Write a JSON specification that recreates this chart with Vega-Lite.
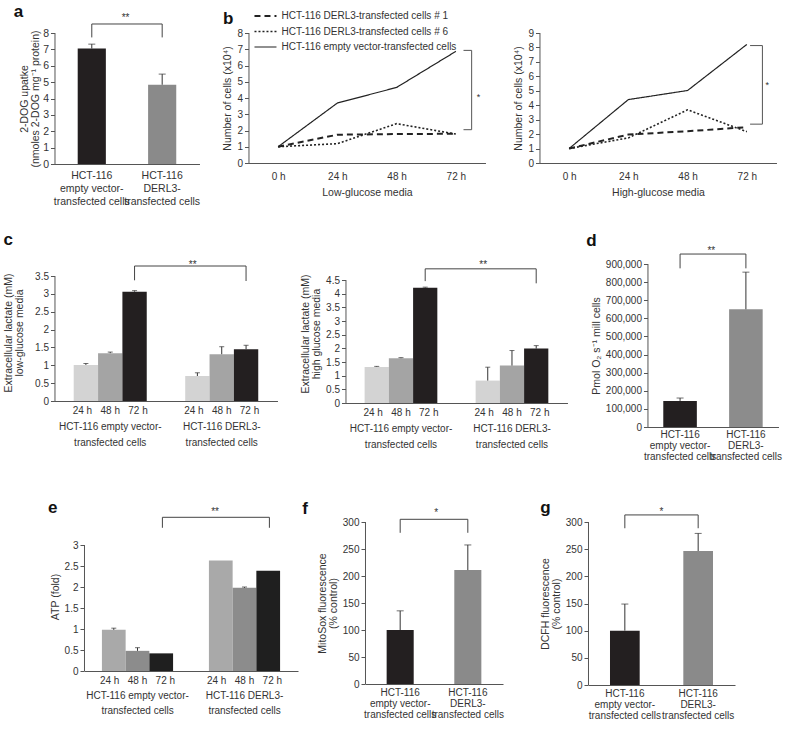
{
"$schema": "https://vega.github.io/schema/vega-lite/v6.json",
"background": "white",
"padding": {"left": 3, "top": 2, "right": 15, "bottom": 0},
"config": {
  "font": "Liberation Sans",
  "view": {"stroke": null},
  "axis": {"domainColor": "#555", "tickColor": "#555", "labelColor": "#333", "titleColor": "#333", "labelFontSize": 10, "titleFontSize": 10.5, "titleFontWeight": "normal", "tickSize": 4, "grid": false, "labelPadding": 2, "titlePadding": 4, "labelFont": "Liberation Sans", "titleFont": "Liberation Sans", "labelOverlap": false},
  "axisY": {"titleLineHeight": 11},
  "title": {"fontSize": 17, "fontWeight": "bold", "anchor": "start", "color": "#111", "font": "Liberation Sans"},
  "text": {"font": "Liberation Sans"}
},
"datasets": {
  "a": [{"g": "ev", "v": 7.05, "hi": 7.32}, {"g": "dr", "v": 4.84, "hi": 5.49}],
  "a_br": [{"g": "ev", "v": 7.73, "o": 1}, {"g": "ev", "v": 8.55, "o": 2}, {"g": "dr", "v": 8.55, "o": 3}, {"g": "dr", "v": 7.73, "o": 4}],
  "a_st": [{"g": "ev", "v": 8.93, "s": "**"}],
  "bl": [
    {"s": "d1", "t": 0, "v": 1.0}, {"s": "d1", "t": 24, "v": 1.74}, {"s": "d1", "t": 48, "v": 1.78}, {"s": "d1", "t": 72, "v": 1.8},
    {"s": "d6", "t": 0, "v": 1.0}, {"s": "d6", "t": 24, "v": 1.19}, {"s": "d6", "t": 48, "v": 2.42}, {"s": "d6", "t": 72, "v": 1.78},
    {"s": "ev", "t": 0, "v": 1.0}, {"s": "ev", "t": 24, "v": 3.69}, {"s": "ev", "t": 48, "v": 4.65}, {"s": "ev", "t": 72, "v": 6.87}
  ],
  "bl_br": [{"t": 75.1, "v": 6.93, "o": 1}, {"t": 78.4, "v": 6.93, "o": 2}, {"t": 78.4, "v": 2.05, "o": 3}, {"t": 75.1, "v": 2.05, "o": 4}],
  "bl_st": [{"t": 81.2, "v": 4.04, "s": "*"}],
  "br": [
    {"s": "d1", "t": 0, "v": 1.0}, {"s": "d1", "t": 24, "v": 1.97}, {"s": "d1", "t": 48, "v": 2.2}, {"s": "d1", "t": 72, "v": 2.48},
    {"s": "d6", "t": 0, "v": 1.0}, {"s": "d6", "t": 24, "v": 1.74}, {"s": "d6", "t": 48, "v": 3.68}, {"s": "d6", "t": 72, "v": 2.17},
    {"s": "ev", "t": 0, "v": 1.0}, {"s": "ev", "t": 24, "v": 4.39}, {"s": "ev", "t": 48, "v": 5.02}, {"s": "ev", "t": 72, "v": 8.21}
  ],
  "br_br": [{"t": 73.3, "v": 8.13, "o": 1}, {"t": 78.3, "v": 8.13, "o": 2}, {"t": 78.3, "v": 2.69, "o": 3}, {"t": 73.3, "v": 2.69, "o": 4}],
  "br_st": [{"t": 80.3, "v": 5.4, "s": "*"}],
  "cl": [
    {"g": "ev", "t": "24 h", "v": 1.01, "hi": 1.05}, {"g": "ev", "t": "48 h", "v": 1.34, "hi": 1.37}, {"g": "ev", "t": "72 h", "v": 3.06, "hi": 3.09},
    {"g": "dr", "t": "24 h", "v": 0.70, "hi": 0.79}, {"g": "dr", "t": "48 h", "v": 1.31, "hi": 1.52}, {"g": "dr", "t": "72 h", "v": 1.45, "hi": 1.56}
  ],
  "cl_br": [{"g": "ev", "v": 3.38, "o": 1}, {"g": "ev", "v": 3.78, "o": 2}, {"g": "dr", "v": 3.78, "o": 3}, {"g": "dr", "v": 3.36, "o": 4}],
  "cl_st": [{"g": "ev", "v": 3.82, "s": "**"}],
  "cr": [
    {"g": "ev", "t": "24 h", "v": 1.32, "hi": 1.34}, {"g": "ev", "t": "48 h", "v": 1.64, "hi": 1.66}, {"g": "ev", "t": "72 h", "v": 4.22, "hi": 4.24},
    {"g": "dr", "t": "24 h", "v": 0.82, "hi": 1.31}, {"g": "dr", "t": "48 h", "v": 1.37, "hi": 1.92}, {"g": "dr", "t": "72 h", "v": 1.99, "hi": 2.10}
  ],
  "cr_br": [{"g": "ev", "v": 4.46, "o": 1}, {"g": "ev", "v": 4.91, "o": 2}, {"g": "dr", "v": 4.91, "o": 3}, {"g": "dr", "v": 4.38, "o": 4}],
  "cr_st": [{"g": "ev", "v": 5.04, "s": "**"}],
  "d": [{"g": "ev", "v": 144000, "hi": 160000}, {"g": "dr", "v": 650000, "hi": 855000}],
  "d_br": [{"g": "ev", "v": 876000, "o": 1}, {"g": "ev", "v": 955000, "o": 2}, {"g": "dr", "v": 955000, "o": 3}, {"g": "dr", "v": 876000, "o": 4}],
  "d_st": [{"g": "ev", "v": 972000, "s": "**"}],
  "e": [
    {"g": "ev", "t": "24 h", "v": 0.98, "hi": 1.02}, {"g": "ev", "t": "48 h", "v": 0.48, "hi": 0.555}, {"g": "ev", "t": "72 h", "v": 0.42, "hi": 0.42},
    {"g": "dr", "t": "24 h", "v": 2.63, "hi": 2.63}, {"g": "dr", "t": "48 h", "v": 1.98, "hi": 2.0}, {"g": "dr", "t": "72 h", "v": 2.39, "hi": 2.39}
  ],
  "e_br": [{"g": "ev", "v": 3.41, "o": 1}, {"g": "ev", "v": 3.66, "o": 2}, {"g": "dr", "v": 3.66, "o": 3}, {"g": "dr", "v": 3.41, "o": 4}],
  "e_st": [{"g": "ev", "v": 3.79, "s": "**"}],
  "f": [{"g": "ev", "v": 100, "hi": 135.5}, {"g": "dr", "v": 211, "hi": 257.5}],
  "f_br": [{"g": "ev", "v": 280, "o": 1}, {"g": "ev", "v": 305, "o": 2}, {"g": "dr", "v": 305, "o": 3}, {"g": "dr", "v": 280, "o": 4}],
  "f_st": [{"g": "ev", "v": 317, "s": "*"}],
  "gg": [{"g": "ev", "v": 100, "hi": 149}, {"g": "dr", "v": 246.6, "hi": 279}],
  "g_br": [{"g": "ev", "v": 288.5, "o": 1}, {"g": "ev", "v": 313, "o": 2}, {"g": "dr", "v": 313, "o": 3}, {"g": "dr", "v": 288.5, "o": 4}],
  "g_st": [{"g": "ev", "v": 318, "s": "*"}]
},
"center": true,
"spacing": 37,
"resolve": {"scale": {"xOffset": "independent", "strokeDash": "independent", "strokeWidth": "independent"}, "legend": {"strokeDash": "independent", "strokeWidth": "independent"}},
"vconcat": [
{
 "spacing": 23,
 "resolve": {"scale": {"xOffset": "independent", "strokeDash": "independent", "strokeWidth": "independent"}, "legend": {"strokeDash": "independent", "strokeWidth": "independent"}},
 "vconcat": [
 {
  "spacing": 22,
  "resolve": {"scale": {"xOffset": "independent", "strokeDash": "independent", "strokeWidth": "independent"}, "legend": {"strokeDash": "independent", "strokeWidth": "independent"}},
  "hconcat": [
  {
    "title": {"text": "a", "offset": -8, "dx": -6},
    "width": 145, "height": 131,
    "layer": [
      {"data": {"name": "a"}, "mark": {"type": "bar"},
       "encoding": {
         "x": {"field": "g", "type": "nominal", "sort": ["ev", "dr"], "scale": {"paddingInner": 0.6, "paddingOuter": 0.33},
               "axis": {"title": null, "labelAngle": 0, "labelFontSize": 10.5, "labelLineHeight": 13, "ticks": false, "labelPadding": 6, "labelExpr": "datum.value == 'ev' ? ['HCT-116', 'empty vector-', 'transfected cells'] : ['HCT-116', 'DERL3-', 'transfected cells']"}},
         "y": {"field": "v", "type": "quantitative", "scale": {"domain": [0, 8], "nice": false},
               "axis": {"title": ["2-DOG upatke", "(nmoles 2-DOG mg⁻¹ protein)"], "values": [0, 1, 2, 3, 4, 5, 6, 7, 8], "labelFontSize": 10.5, "titlePadding": 2, "domain": false, "labelOverlap": false}},
         "color": {"condition": {"test": "datum.g == 'ev'", "value": "#231f20"}, "value": "#8a8a8a"}
       }},
      {"data": {"values": [{}]}, "mark": {"type": "rule", "color": "#555", "strokeWidth": 1},
       "encoding": {"x": {"datum": "ev", "type": "nominal", "bandPosition": -0.807},
                    "y": {"datum": 0, "type": "quantitative", "axis": {"title": ["2-DOG upatke", "(nmoles 2-DOG mg⁻¹ protein)"], "values": [0, 1, 2, 3, 4, 5, 6, 7, 8], "labelFontSize": 10.5, "titlePadding": 2, "domain": false, "labelOverlap": false}}, "y2": {"datum": 8}}},
      {"data": {"name": "a"}, "mark": {"type": "rule", "color": "#333"},
       "encoding": {"x": {"field": "g", "type": "nominal", "sort": ["ev", "dr"]},
                    "y": {"field": "v", "type": "quantitative", "axis": {"title": ["2-DOG upatke", "(nmoles 2-DOG mg⁻¹ protein)"], "values": [0, 1, 2, 3, 4, 5, 6, 7, 8], "labelFontSize": 10.5, "titlePadding": 2, "domain": false, "labelOverlap": false}}, "y2": {"field": "hi"}}},
      {"data": {"name": "a"}, "mark": {"type": "tick", "color": "#333", "size": 7, "thickness": 1},
       "encoding": {"x": {"field": "g", "type": "nominal", "sort": ["ev", "dr"]},
                    "y": {"field": "hi", "type": "quantitative", "axis": {"title": ["2-DOG upatke", "(nmoles 2-DOG mg⁻¹ protein)"], "values": [0, 1, 2, 3, 4, 5, 6, 7, 8], "labelFontSize": 10.5, "titlePadding": 2, "domain": false, "labelOverlap": false}}}},
      {"data": {"name": "a_br"}, "mark": {"type": "line", "color": "#444", "strokeWidth": 1},
       "encoding": {"x": {"field": "g", "type": "nominal", "sort": ["ev", "dr"], "bandPosition": 0.5},
                    "y": {"field": "v", "type": "quantitative", "axis": {"title": ["2-DOG upatke", "(nmoles 2-DOG mg⁻¹ protein)"], "values": [0, 1, 2, 3, 4, 5, 6, 7, 8], "labelFontSize": 10.5, "titlePadding": 2, "domain": false, "labelOverlap": false}}, "order": {"field": "o", "type": "quantitative"}}},
      {"data": {"name": "a_st"}, "mark": {"type": "text", "fontSize": 10, "color": "#333", "baseline": "middle"},
       "encoding": {"x": {"field": "g", "type": "nominal", "sort": ["ev", "dr"], "bandPosition": 1.7},
                    "y": {"field": "v", "type": "quantitative", "axis": {"title": ["2-DOG upatke", "(nmoles 2-DOG mg⁻¹ protein)"], "values": [0, 1, 2, 3, 4, 5, 6, 7, 8], "labelFontSize": 10.5, "titlePadding": 2, "domain": false, "labelOverlap": false}}, "text": {"field": "s"}}}
    ]
  },
  {
   "spacing": 28,
   "resolve": {"scale": {"xOffset": "independent", "strokeDash": "independent", "strokeWidth": "independent"}, "legend": {"strokeDash": "independent", "strokeWidth": "independent"}},
   "hconcat": [
   {
    "title": {"text": "b", "offset": -18},
    "width": 237, "height": 130,
    "layer": [
      {"data": {"name": "bl"}, "mark": {"type": "line", "color": "#222"},
       "encoding": {
         "x": {"field": "t", "type": "quantitative", "scale": {"domain": [-12, 84], "nice": false, "zero": false},
               "axis": {"title": "Low-glucose media", "values": [0, 12, 24, 36, 48, 60, 72, 84], "labelExpr": "datum.value % 24 == 0 ? datum.value + ' h' : ''", "tickOpacity": {"condition": {"test": "datum.value % 24 == 0", "value": 0}, "value": 1}, "labelPadding": 4, "titlePadding": 6}},
         "y": {"field": "v", "type": "quantitative", "scale": {"domain": [0, 8], "nice": false},
               "axis": {"title": "Number of cells (x10⁴)", "values": [0, 1, 2, 3, 4, 5, 6, 7, 8], "domain": false, "labelOverlap": false}},
         "strokeDash": {"field": "s", "type": "nominal", "scale": {"domain": ["d1", "d6", "ev"], "range": [[6, 4], [2, 2], [1, 0]]},
               "legend": {"title": null, "orient": "none", "legendX": 5, "legendY": -23, "symbolType": "stroke", "symbolSize": 484, "clipHeight": 12, "symbolStrokeColor": "#222", "symbolStrokeWidth": 1.5, "labelFontSize": 10, "labelColor": "#333", "labelLimit": 0, "rowPadding": 3.5,
                          "labelExpr": "datum.value == 'd1' ? 'HCT-116 DERL3-transfected cells # 1' : datum.value == 'd6' ? 'HCT-116 DERL3-transfected cells # 6' : 'HCT-116 empty vector-transfected cells'"}},
         "strokeWidth": {"field": "s", "type": "nominal", "scale": {"domain": ["d1", "d6", "ev"], "range": [2, 1.2, 1.4]}, "legend": null}
       }},
      {"data": {"values": [{}]}, "mark": {"type": "rule", "color": "#555", "strokeWidth": 1},
       "encoding": {"x": {"datum": -11.8, "type": "quantitative"},
                    "y": {"datum": 0, "type": "quantitative", "axis": {"title": "Number of cells (x10⁴)", "values": [0, 1, 2, 3, 4, 5, 6, 7, 8], "domain": false, "labelOverlap": false}}, "y2": {"datum": 8}}},
      {"data": {"name": "bl_br"}, "mark": {"type": "line", "color": "#555", "strokeWidth": 1},
       "encoding": {"x": {"field": "t", "type": "quantitative"},
                    "y": {"field": "v", "type": "quantitative", "axis": {"title": "Number of cells (x10⁴)", "values": [0, 1, 2, 3, 4, 5, 6, 7, 8], "domain": false, "labelOverlap": false}}, "order": {"field": "o", "type": "quantitative"}}},
      {"data": {"name": "bl_st"}, "mark": {"type": "text", "fontSize": 9, "color": "#333", "baseline": "middle"},
       "encoding": {"x": {"field": "t", "type": "quantitative"},
                    "y": {"field": "v", "type": "quantitative", "axis": {"title": "Number of cells (x10⁴)", "values": [0, 1, 2, 3, 4, 5, 6, 7, 8], "domain": false, "labelOverlap": false}}, "text": {"field": "s"}}}
    ]
   },
   {
    "width": 237, "height": 130,
    "layer": [
      {"data": {"name": "br"}, "mark": {"type": "line", "color": "#222"},
       "encoding": {
         "x": {"field": "t", "type": "quantitative", "scale": {"domain": [-12, 84], "nice": false, "zero": false},
               "axis": {"title": "High-glucose media", "values": [0, 12, 24, 36, 48, 60, 72, 84], "labelExpr": "datum.value % 24 == 0 ? datum.value + ' h' : ''", "tickOpacity": {"condition": {"test": "datum.value % 24 == 0", "value": 0}, "value": 1}, "labelPadding": 4, "titlePadding": 6}},
         "y": {"field": "v", "type": "quantitative", "scale": {"domain": [0, 9], "nice": false},
               "axis": {"title": "Number of cells (x10⁴)", "values": [0, 1, 2, 3, 4, 5, 6, 7, 8, 9], "domain": false, "labelOverlap": false}},
         "strokeDash": {"field": "s", "type": "nominal", "scale": {"domain": ["d1", "d6", "ev"], "range": [[6, 4], [2, 2], [1, 0]]}, "legend": null},
         "strokeWidth": {"field": "s", "type": "nominal", "scale": {"domain": ["d1", "d6", "ev"], "range": [2, 1.2, 1.4]}, "legend": null}
       }},
      {"data": {"values": [{}]}, "mark": {"type": "rule", "color": "#555", "strokeWidth": 1},
       "encoding": {"x": {"datum": -11.8, "type": "quantitative"},
                    "y": {"datum": 0, "type": "quantitative", "axis": {"title": "Number of cells (x10⁴)", "values": [0, 1, 2, 3, 4, 5, 6, 7, 8, 9], "domain": false, "labelOverlap": false}}, "y2": {"datum": 9}}},
      {"data": {"name": "br_br"}, "mark": {"type": "line", "color": "#555", "strokeWidth": 1},
       "encoding": {"x": {"field": "t", "type": "quantitative"},
                    "y": {"field": "v", "type": "quantitative", "axis": {"title": "Number of cells (x10⁴)", "values": [0, 1, 2, 3, 4, 5, 6, 7, 8, 9], "domain": false, "labelOverlap": false}}, "order": {"field": "o", "type": "quantitative"}}},
      {"data": {"name": "br_st"}, "mark": {"type": "text", "fontSize": 9, "color": "#333", "baseline": "middle"},
       "encoding": {"x": {"field": "t", "type": "quantitative"},
                    "y": {"field": "v", "type": "quantitative", "axis": {"title": "Number of cells (x10⁴)", "values": [0, 1, 2, 3, 4, 5, 6, 7, 8, 9], "domain": false, "labelOverlap": false}}, "text": {"field": "s"}}}
    ]
   }
   ]
  }
  ]
 },
 {
  "spacing": 18,
  "resolve": {"scale": {"xOffset": "independent", "strokeDash": "independent", "strokeWidth": "independent"}, "legend": {"strokeDash": "independent", "strokeWidth": "independent"}},
  "hconcat": [
  {
    "spacing": 23,
    "resolve": {"scale": {"xOffset": "independent", "strokeDash": "independent", "strokeWidth": "independent"}, "legend": {"strokeDash": "independent", "strokeWidth": "independent"}},
    "hconcat": [
    {
      "title": {"text": "c", "offset": 11},
      "width": 223, "height": 137,
      "layer": [
        {"data": {"name": "cl"}, "mark": {"type": "bar"},
         "encoding": {
           "x": {"field": "g", "type": "nominal", "sort": ["ev", "dr"], "scale": {"paddingInner": 0.345, "paddingOuter": 0.1725},
                 "axis": {"title": null, "labelAngle": 0, "labelLineHeight": 16, "labelPadding": 4, "ticks": false, "labelExpr": "datum.value == 'ev' ? ['24 h\u00a0\u00a0 48 h\u00a0\u00a0 72 h', 'HCT-116 empty vector-', 'transfected cells'] : ['24 h\u00a0\u00a0 48 h\u00a0\u00a0 72 h', 'HCT-116 DERL3-', 'transfected cells']"}},
           "xOffset": {"field": "t", "type": "nominal", "sort": ["24 h", "48 h", "72 h"], "scale": {"paddingInner": 0, "paddingOuter": 0}},
           "y": {"field": "v", "type": "quantitative", "scale": {"domain": [0, 3.836], "nice": false},
                 "axis": {"title": ["Extracellular lactate (mM)", "low-glucose media"], "values": [0, 0.5, 1, 1.5, 2, 2.5, 3, 3.5], "labelExpr": "format(datum.value, '~g')", "titlePadding": 10, "domain": false, "labelOverlap": false}},
           "color": {"condition": [{"test": "datum.t == '24 h'", "value": "#d3d3d3"}, {"test": "datum.t == '48 h'", "value": "#a4a4a4"}], "value": "#231f20"}
         }},
        {"data": {"values": [{}]}, "mark": {"type": "rule", "color": "#555", "strokeWidth": 1},
         "encoding": {"x": {"datum": "ev", "type": "nominal", "bandPosition": -0.2566},
                      "y": {"datum": 0, "type": "quantitative", "axis": {"title": ["Extracellular lactate (mM)", "low-glucose media"], "values": [0, 0.5, 1, 1.5, 2, 2.5, 3, 3.5], "labelExpr": "format(datum.value, '~g')", "titlePadding": 10, "domain": false, "labelOverlap": false}}, "y2": {"datum": 3.5}}},
        {"data": {"name": "cl"}, "transform": [{"filter": "datum.hi > datum.v"}], "mark": {"type": "rule", "color": "#333"},
         "encoding": {"x": {"field": "g", "type": "nominal", "sort": ["ev", "dr"]}, "xOffset": {"field": "t", "type": "nominal", "sort": ["24 h", "48 h", "72 h"]},
                      "y": {"field": "v", "type": "quantitative", "axis": {"title": ["Extracellular lactate (mM)", "low-glucose media"], "values": [0, 0.5, 1, 1.5, 2, 2.5, 3, 3.5], "labelExpr": "format(datum.value, '~g')", "titlePadding": 10, "domain": false, "labelOverlap": false}}, "y2": {"field": "hi"}}},
        {"data": {"name": "cl"}, "transform": [{"filter": "datum.hi > datum.v"}], "mark": {"type": "tick", "color": "#333", "size": 5, "thickness": 1},
         "encoding": {"x": {"field": "g", "type": "nominal", "sort": ["ev", "dr"]}, "xOffset": {"field": "t", "type": "nominal", "sort": ["24 h", "48 h", "72 h"]},
                      "y": {"field": "hi", "type": "quantitative", "axis": {"title": ["Extracellular lactate (mM)", "low-glucose media"], "values": [0, 0.5, 1, 1.5, 2, 2.5, 3, 3.5], "labelExpr": "format(datum.value, '~g')", "titlePadding": 10, "domain": false, "labelOverlap": false}}}},
        {"data": {"name": "cl_br"}, "mark": {"type": "line", "color": "#444", "strokeWidth": 1},
         "encoding": {"x": {"field": "g", "type": "nominal", "sort": ["ev", "dr"], "bandPosition": 0.833},
                      "y": {"field": "v", "type": "quantitative", "axis": {"title": ["Extracellular lactate (mM)", "low-glucose media"], "values": [0, 0.5, 1, 1.5, 2, 2.5, 3, 3.5], "labelExpr": "format(datum.value, '~g')", "titlePadding": 10, "domain": false, "labelOverlap": false}}, "order": {"field": "o", "type": "quantitative"}}},
        {"data": {"name": "cl_st"}, "mark": {"type": "text", "fontSize": 10, "color": "#333", "baseline": "middle"},
         "encoding": {"x": {"field": "g", "type": "nominal", "sort": ["ev", "dr"], "bandPosition": 1.63},
                      "y": {"field": "v", "type": "quantitative", "axis": {"title": ["Extracellular lactate (mM)", "low-glucose media"], "values": [0, 0.5, 1, 1.5, 2, 2.5, 3, 3.5], "labelExpr": "format(datum.value, '~g')", "titlePadding": 10, "domain": false, "labelOverlap": false}}, "text": {"field": "s"}}}
      ]
    },
    {
      "title": {"text": " ", "offset": 11},
      "width": 222, "height": 139,
      "layer": [
        {"data": {"name": "cr"}, "mark": {"type": "bar"},
         "encoding": {
           "x": {"field": "g", "type": "nominal", "sort": ["ev", "dr"], "scale": {"paddingInner": 0.345, "paddingOuter": 0.1725},
                 "axis": {"title": null, "labelAngle": 0, "labelLineHeight": 16, "labelPadding": 4, "ticks": false, "labelExpr": "datum.value == 'ev' ? ['24 h\u00a0\u00a0 48 h\u00a0\u00a0 72 h', 'HCT-116 empty vector-', 'transfected cells'] : ['24 h\u00a0\u00a0 48 h\u00a0\u00a0 72 h', 'HCT-116 DERL3-', 'transfected cells']"}},
           "xOffset": {"field": "t", "type": "nominal", "sort": ["24 h", "48 h", "72 h"], "scale": {"paddingInner": 0, "paddingOuter": 0}},
           "y": {"field": "v", "type": "quantitative", "scale": {"domain": [0, 5.087], "nice": false},
                 "axis": {"title": ["Extracellular lactate (mM)", "high glucose media"], "values": [0, 0.5, 1, 1.5, 2, 2.5, 3, 3.5, 4, 4.5], "labelExpr": "format(datum.value, '~g')", "domain": false, "labelOverlap": false}},
           "color": {"condition": [{"test": "datum.t == '24 h'", "value": "#d3d3d3"}, {"test": "datum.t == '48 h'", "value": "#a4a4a4"}], "value": "#231f20"}
         }},
        {"data": {"values": [{}]}, "mark": {"type": "rule", "color": "#555", "strokeWidth": 1},
         "encoding": {"x": {"datum": "ev", "type": "nominal", "bandPosition": -0.2566},
                      "y": {"datum": 0, "type": "quantitative", "axis": {"title": ["Extracellular lactate (mM)", "high glucose media"], "values": [0, 0.5, 1, 1.5, 2, 2.5, 3, 3.5, 4, 4.5], "labelExpr": "format(datum.value, '~g')", "domain": false, "labelOverlap": false}}, "y2": {"datum": 4.5}}},
        {"data": {"name": "cr"}, "transform": [{"filter": "datum.hi > datum.v"}], "mark": {"type": "rule", "color": "#333"},
         "encoding": {"x": {"field": "g", "type": "nominal", "sort": ["ev", "dr"]}, "xOffset": {"field": "t", "type": "nominal", "sort": ["24 h", "48 h", "72 h"]},
                      "y": {"field": "v", "type": "quantitative", "axis": {"title": ["Extracellular lactate (mM)", "high glucose media"], "values": [0, 0.5, 1, 1.5, 2, 2.5, 3, 3.5, 4, 4.5], "labelExpr": "format(datum.value, '~g')", "domain": false, "labelOverlap": false}}, "y2": {"field": "hi"}}},
        {"data": {"name": "cr"}, "transform": [{"filter": "datum.hi > datum.v"}], "mark": {"type": "tick", "color": "#333", "size": 5, "thickness": 1},
         "encoding": {"x": {"field": "g", "type": "nominal", "sort": ["ev", "dr"]}, "xOffset": {"field": "t", "type": "nominal", "sort": ["24 h", "48 h", "72 h"]},
                      "y": {"field": "hi", "type": "quantitative", "axis": {"title": ["Extracellular lactate (mM)", "high glucose media"], "values": [0, 0.5, 1, 1.5, 2, 2.5, 3, 3.5, 4, 4.5], "labelExpr": "format(datum.value, '~g')", "domain": false, "labelOverlap": false}}}},
        {"data": {"name": "cr_br"}, "mark": {"type": "line", "color": "#444", "strokeWidth": 1},
         "encoding": {"x": {"field": "g", "type": "nominal", "sort": ["ev", "dr"], "bandPosition": 0.833},
                      "y": {"field": "v", "type": "quantitative", "axis": {"title": ["Extracellular lactate (mM)", "high glucose media"], "values": [0, 0.5, 1, 1.5, 2, 2.5, 3, 3.5, 4, 4.5], "labelExpr": "format(datum.value, '~g')", "domain": false, "labelOverlap": false}}, "order": {"field": "o", "type": "quantitative"}}},
        {"data": {"name": "cr_st"}, "mark": {"type": "text", "fontSize": 10, "color": "#333", "baseline": "middle"},
         "encoding": {"x": {"field": "g", "type": "nominal", "sort": ["ev", "dr"], "bandPosition": 1.63},
                      "y": {"field": "v", "type": "quantitative", "axis": {"title": ["Extracellular lactate (mM)", "high glucose media"], "values": [0, 0.5, 1, 1.5, 2, 2.5, 3, 3.5, 4, 4.5], "labelExpr": "format(datum.value, '~g')", "domain": false, "labelOverlap": false}}, "text": {"field": "s"}}}
      ]
    }
    ]
  },
  {
    "title": {"text": "d", "offset": -4, "dx": -5},
    "width": 131, "height": 163,
    "layer": [
      {"data": {"name": "d"}, "mark": {"type": "bar"},
       "encoding": {
         "x": {"field": "g", "type": "nominal", "sort": ["ev", "dr"], "scale": {"paddingInner": 0.49, "paddingOuter": 0.24},
               "axis": {"title": null, "labelAngle": 0, "labelLineHeight": 11, "ticks": false, "labelPadding": 2, "labelExpr": "datum.value == 'ev' ? ['HCT-116', 'empty vector-', 'transfected cells'] : ['HCT-116', 'DERL3-', 'transfected cells']"}},
         "y": {"field": "v", "type": "quantitative", "scale": {"domain": [0, 900000], "nice": false},
               "axis": {"title": "Pmol O₂ s⁻¹ mill cells", "values": [0, 100000, 200000, 300000, 400000, 500000, 600000, 700000, 800000, 900000], "labelExpr": "format(datum.value, ',')", "domain": false, "labelOverlap": false}},
         "color": {"condition": {"test": "datum.g == 'ev'", "value": "#231f20"}, "value": "#8c8c8c"}
       }},
      {"data": {"values": [{}]}, "mark": {"type": "rule", "color": "#555", "strokeWidth": 1},
       "encoding": {"x": {"datum": "ev", "type": "nominal", "bandPosition": -0.456},
                    "y": {"datum": 0, "type": "quantitative", "axis": {"title": "Pmol O₂ s⁻¹ mill cells", "values": [0, 100000, 200000, 300000, 400000, 500000, 600000, 700000, 800000, 900000], "labelExpr": "format(datum.value, ',')", "domain": false, "labelOverlap": false}}, "y2": {"datum": 900000}}},
      {"data": {"name": "d"}, "mark": {"type": "rule", "color": "#333"},
       "encoding": {"x": {"field": "g", "type": "nominal", "sort": ["ev", "dr"]},
                    "y": {"field": "v", "type": "quantitative", "axis": {"title": "Pmol O₂ s⁻¹ mill cells", "values": [0, 100000, 200000, 300000, 400000, 500000, 600000, 700000, 800000, 900000], "labelExpr": "format(datum.value, ',')", "domain": false, "labelOverlap": false}}, "y2": {"field": "hi"}}},
      {"data": {"name": "d"}, "mark": {"type": "tick", "color": "#333", "size": 7, "thickness": 1},
       "encoding": {"x": {"field": "g", "type": "nominal", "sort": ["ev", "dr"]},
                    "y": {"field": "hi", "type": "quantitative", "axis": {"title": "Pmol O₂ s⁻¹ mill cells", "values": [0, 100000, 200000, 300000, 400000, 500000, 600000, 700000, 800000, 900000], "labelExpr": "format(datum.value, ',')", "domain": false, "labelOverlap": false}}}},
      {"data": {"name": "d_br"}, "mark": {"type": "line", "color": "#444", "strokeWidth": 1},
       "encoding": {"x": {"field": "g", "type": "nominal", "sort": ["ev", "dr"], "bandPosition": 0.5},
                    "y": {"field": "v", "type": "quantitative", "axis": {"title": "Pmol O₂ s⁻¹ mill cells", "values": [0, 100000, 200000, 300000, 400000, 500000, 600000, 700000, 800000, 900000], "labelExpr": "format(datum.value, ',')", "domain": false, "labelOverlap": false}}, "order": {"field": "o", "type": "quantitative"}}},
      {"data": {"name": "d_st"}, "mark": {"type": "text", "fontSize": 10, "color": "#333", "baseline": "middle"},
       "encoding": {"x": {"field": "g", "type": "nominal", "sort": ["ev", "dr"], "bandPosition": 1.43},
                    "y": {"field": "v", "type": "quantitative", "axis": {"title": "Pmol O₂ s⁻¹ mill cells", "values": [0, 100000, 200000, 300000, 400000, 500000, 600000, 700000, 800000, 900000], "labelExpr": "format(datum.value, ',')", "domain": false, "labelOverlap": false}}, "text": {"field": "s"}}}
    ]
  }
  ]
 }
 ]
},
{
  "spacing": 36,
  "resolve": {"scale": {"xOffset": "independent", "strokeDash": "independent", "strokeWidth": "independent"}, "legend": {"strokeDash": "independent", "strokeWidth": "independent"}},
  "hconcat": [
  {
    "spacing": 4,
    "resolve": {"scale": {"xOffset": "independent", "strokeDash": "independent", "strokeWidth": "independent"}, "legend": {"strokeDash": "independent", "strokeWidth": "independent"}},
    "hconcat": [
    {
      "title": {"text": "e", "offset": -10, "dx": -2},
      "width": 214, "height": 149,
      "layer": [
        {"data": {"name": "e"}, "mark": {"type": "bar"},
         "encoding": {
           "x": {"field": "g", "type": "nominal", "sort": ["ev", "dr"], "scale": {"paddingInner": 0.335, "paddingOuter": 0.1675},
                 "axis": {"title": null, "labelAngle": 0, "labelLineHeight": 15, "labelPadding": 4, "ticks": false, "labelExpr": "datum.value == 'ev' ? ['24 h\u00a0\u00a0 48 h\u00a0\u00a0 72 h', 'HCT-116 empty vector-', 'transfected cells'] : ['24 h\u00a0\u00a0 48 h\u00a0\u00a0 72 h', 'HCT-116 DERL3-', 'transfected cells']"}},
           "xOffset": {"field": "t", "type": "nominal", "sort": ["24 h", "48 h", "72 h"], "scale": {"paddingInner": 0, "paddingOuter": 0}},
           "y": {"field": "v", "type": "quantitative", "scale": {"domain": [0, 3.548], "nice": false},
                 "axis": {"title": "ATP (fold)", "values": [0, 0.5, 1, 1.5, 2, 2.5, 3], "labelExpr": "format(datum.value, '~g')", "domain": false, "labelOverlap": false}},
           "color": {"condition": [{"test": "datum.t == '24 h'", "value": "#a9a9a9"}, {"test": "datum.t == '48 h'", "value": "#8c8c8c"}], "value": "#1f1f1f"}
         }},
        {"data": {"values": [{}]}, "mark": {"type": "rule", "color": "#555", "strokeWidth": 1},
         "encoding": {"x": {"datum": "ev", "type": "nominal", "bandPosition": -0.245},
                      "y": {"datum": 0, "type": "quantitative", "axis": {"title": "ATP (fold)", "values": [0, 0.5, 1, 1.5, 2, 2.5, 3], "labelExpr": "format(datum.value, '~g')", "domain": false, "labelOverlap": false}}, "y2": {"datum": 3}}},
        {"data": {"name": "e"}, "transform": [{"filter": "datum.hi > datum.v"}], "mark": {"type": "rule", "color": "#333"},
         "encoding": {"x": {"field": "g", "type": "nominal", "sort": ["ev", "dr"]}, "xOffset": {"field": "t", "type": "nominal", "sort": ["24 h", "48 h", "72 h"]},
                      "y": {"field": "v", "type": "quantitative", "axis": {"title": "ATP (fold)", "values": [0, 0.5, 1, 1.5, 2, 2.5, 3], "labelExpr": "format(datum.value, '~g')", "domain": false, "labelOverlap": false}}, "y2": {"field": "hi"}}},
        {"data": {"name": "e"}, "transform": [{"filter": "datum.hi > datum.v"}], "mark": {"type": "tick", "color": "#333", "size": 5, "thickness": 1},
         "encoding": {"x": {"field": "g", "type": "nominal", "sort": ["ev", "dr"]}, "xOffset": {"field": "t", "type": "nominal", "sort": ["24 h", "48 h", "72 h"]},
                      "y": {"field": "hi", "type": "quantitative", "axis": {"title": "ATP (fold)", "values": [0, 0.5, 1, 1.5, 2, 2.5, 3], "labelExpr": "format(datum.value, '~g')", "domain": false, "labelOverlap": false}}}},
        {"data": {"name": "e_br"}, "mark": {"type": "line", "color": "#444", "strokeWidth": 1},
         "encoding": {"x": {"field": "g", "type": "nominal", "sort": ["ev", "dr"], "bandPosition": 0.85},
                      "y": {"field": "v", "type": "quantitative", "axis": {"title": "ATP (fold)", "values": [0, 0.5, 1, 1.5, 2, 2.5, 3], "labelExpr": "format(datum.value, '~g')", "domain": false, "labelOverlap": false}}, "order": {"field": "o", "type": "quantitative"}}},
        {"data": {"name": "e_st"}, "mark": {"type": "text", "fontSize": 10, "color": "#333", "baseline": "middle"},
         "encoding": {"x": {"field": "g", "type": "nominal", "sort": ["ev", "dr"], "bandPosition": 1.59},
                      "y": {"field": "v", "type": "quantitative", "axis": {"title": "ATP (fold)", "values": [0, 0.5, 1, 1.5, 2, 2.5, 3], "labelExpr": "format(datum.value, '~g')", "domain": false, "labelOverlap": false}}, "text": {"field": "s"}}}
      ]
    },
    {
      "title": {"text": "f", "offset": -10, "dx": -15},
      "width": 138, "height": 162,
      "layer": [
        {"data": {"name": "f"}, "mark": {"type": "bar"},
         "encoding": {
           "x": {"field": "g", "type": "nominal", "sort": ["ev", "dr"], "scale": {"paddingInner": 0.6, "paddingOuter": 0.32},
                 "axis": {"title": null, "labelAngle": 0, "labelLineHeight": 11, "ticks": false, "labelPadding": 3, "labelExpr": "datum.value == 'ev' ? ['HCT-116', 'empty vector-', 'transfected cells'] : ['HCT-116', 'DERL3-', 'transfected cells']"}},
           "y": {"field": "v", "type": "quantitative", "scale": {"domain": [0, 300], "nice": false},
                 "axis": {"title": ["MitoSox fluorescence", "(% control)"], "values": [0, 50, 100, 150, 200, 250, 300], "domain": false, "labelOverlap": false}},
           "color": {"condition": {"test": "datum.g == 'ev'", "value": "#231f20"}, "value": "#8a8a8a"}
         }},
        {"data": {"values": [{}]}, "mark": {"type": "rule", "color": "#555", "strokeWidth": 1},
         "encoding": {"x": {"datum": "ev", "type": "nominal", "bandPosition": -0.782},
                      "y": {"datum": 0, "type": "quantitative", "axis": {"title": ["MitoSox fluorescence", "(% control)"], "values": [0, 50, 100, 150, 200, 250, 300], "domain": false, "labelOverlap": false}}, "y2": {"datum": 300}}},
        {"data": {"name": "f"}, "mark": {"type": "rule", "color": "#333"},
         "encoding": {"x": {"field": "g", "type": "nominal", "sort": ["ev", "dr"]},
                      "y": {"field": "v", "type": "quantitative", "axis": {"title": ["MitoSox fluorescence", "(% control)"], "values": [0, 50, 100, 150, 200, 250, 300], "domain": false, "labelOverlap": false}}, "y2": {"field": "hi"}}},
        {"data": {"name": "f"}, "mark": {"type": "tick", "color": "#333", "size": 7, "thickness": 1},
         "encoding": {"x": {"field": "g", "type": "nominal", "sort": ["ev", "dr"]},
                      "y": {"field": "hi", "type": "quantitative", "axis": {"title": ["MitoSox fluorescence", "(% control)"], "values": [0, 50, 100, 150, 200, 250, 300], "domain": false, "labelOverlap": false}}}},
        {"data": {"name": "f_br"}, "mark": {"type": "line", "color": "#444", "strokeWidth": 1},
         "encoding": {"x": {"field": "g", "type": "nominal", "sort": ["ev", "dr"], "bandPosition": 0.5},
                      "y": {"field": "v", "type": "quantitative", "axis": {"title": ["MitoSox fluorescence", "(% control)"], "values": [0, 50, 100, 150, 200, 250, 300], "domain": false, "labelOverlap": false}}, "order": {"field": "o", "type": "quantitative"}}},
        {"data": {"name": "f_st"}, "mark": {"type": "text", "fontSize": 10, "color": "#333", "baseline": "middle"},
         "encoding": {"x": {"field": "g", "type": "nominal", "sort": ["ev", "dr"], "bandPosition": 1.83},
                      "y": {"field": "v", "type": "quantitative", "axis": {"title": ["MitoSox fluorescence", "(% control)"], "values": [0, 50, 100, 150, 200, 250, 300], "domain": false, "labelOverlap": false}}, "text": {"field": "s"}}}
      ]
    }
    ]
  },
  {
    "title": {"text": "g", "offset": -10},
    "width": 147, "height": 163,
    "layer": [
      {"data": {"name": "gg"}, "mark": {"type": "bar"},
       "encoding": {
         "x": {"field": "g", "type": "nominal", "sort": ["ev", "dr"], "scale": {"paddingInner": 0.595, "paddingOuter": 0.3},
               "axis": {"title": " ", "titleX": 164, "labelAngle": 0, "labelLineHeight": 11, "ticks": false, "labelPadding": 3, "labelExpr": "datum.value == 'ev' ? ['HCT-116', 'empty vector-', 'transfected cells'] : ['HCT-116', 'DERL3-', 'transfected cells']"}},
         "y": {"field": "v", "type": "quantitative", "scale": {"domain": [0, 300], "nice": false},
               "axis": {"title": ["DCFH fluorescence", "(% control)"], "values": [0, 50, 100, 150, 200, 250, 300], "domain": false, "labelOverlap": false}},
         "color": {"condition": {"test": "datum.g == 'ev'", "value": "#231f20"}, "value": "#8a8a8a"}
       }},
      {"data": {"values": [{}]}, "mark": {"type": "rule", "color": "#555", "strokeWidth": 1},
       "encoding": {"x": {"datum": "ev", "type": "nominal", "bandPosition": -0.724},
                    "y": {"datum": 0, "type": "quantitative", "axis": {"title": ["DCFH fluorescence", "(% control)"], "values": [0, 50, 100, 150, 200, 250, 300], "domain": false, "labelOverlap": false}}, "y2": {"datum": 300}}},
      {"data": {"name": "gg"}, "mark": {"type": "rule", "color": "#333"},
       "encoding": {"x": {"field": "g", "type": "nominal", "sort": ["ev", "dr"]},
                    "y": {"field": "v", "type": "quantitative", "axis": {"title": ["DCFH fluorescence", "(% control)"], "values": [0, 50, 100, 150, 200, 250, 300], "domain": false, "labelOverlap": false}}, "y2": {"field": "hi"}}},
      {"data": {"name": "gg"}, "mark": {"type": "tick", "color": "#333", "size": 7, "thickness": 1},
       "encoding": {"x": {"field": "g", "type": "nominal", "sort": ["ev", "dr"]},
                    "y": {"field": "hi", "type": "quantitative", "axis": {"title": ["DCFH fluorescence", "(% control)"], "values": [0, 50, 100, 150, 200, 250, 300], "domain": false, "labelOverlap": false}}}},
      {"data": {"name": "g_br"}, "mark": {"type": "line", "color": "#444", "strokeWidth": 1},
       "encoding": {"x": {"field": "g", "type": "nominal", "sort": ["ev", "dr"], "bandPosition": 0.5},
                    "y": {"field": "v", "type": "quantitative", "axis": {"title": ["DCFH fluorescence", "(% control)"], "values": [0, 50, 100, 150, 200, 250, 300], "domain": false, "labelOverlap": false}}, "order": {"field": "o", "type": "quantitative"}}},
      {"data": {"name": "g_st"}, "mark": {"type": "text", "fontSize": 10, "color": "#333", "baseline": "middle"},
       "encoding": {"x": {"field": "g", "type": "nominal", "sort": ["ev", "dr"], "bandPosition": 1.73},
                    "y": {"field": "v", "type": "quantitative", "axis": {"title": ["DCFH fluorescence", "(% control)"], "values": [0, 50, 100, 150, 200, 250, 300], "domain": false, "labelOverlap": false}}, "text": {"field": "s"}}}
    ]
  }
  ]
}
]
}
